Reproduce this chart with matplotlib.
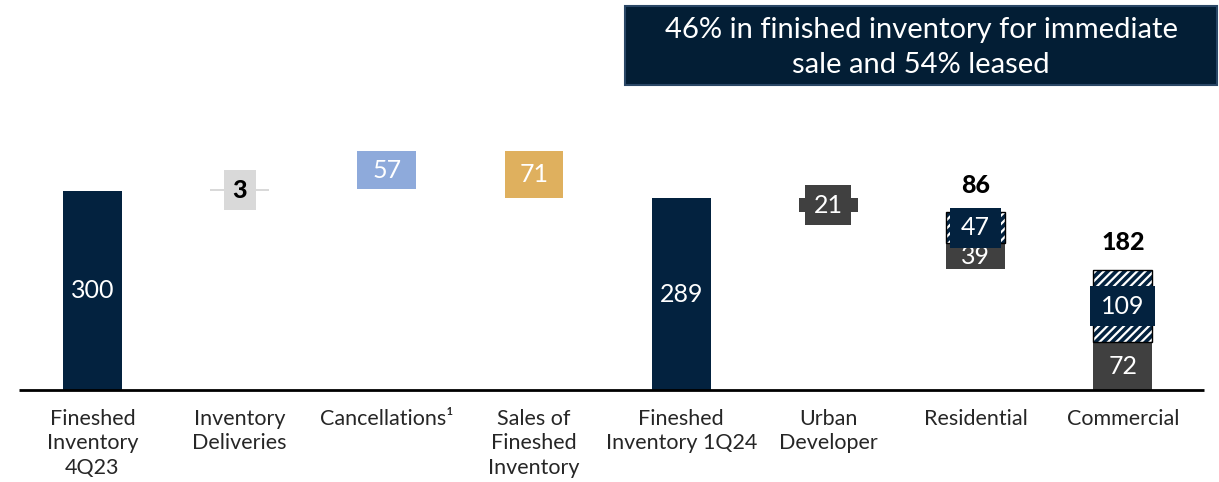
import matplotlib.pyplot as plt
from matplotlib.patches import Rectangle

# categories and waterfall values
categories = ['Fineshed\nInventory\n4Q23', 'Inventory\nDeliveries', 'Cancellations¹',
              'Sales of\nFineshed\nInventory', 'Fineshed\nInventory 1Q24', 'Urban\nDeveloper',
              'Residential', 'Commercial']
start_value = 300
deliveries = 3
cancellations = 57
sales = 71
end_value = 289
urban = 21
residential = [39, 47]
residential_total = 86
commercial = [72, 109]
commercial_total = 182

navy = '#03223f'
dark_gray = '#404040'
light_gray = '#d9d9d9'
blue = '#8eaadb'
gold = '#dfb05e'

plt.rcParams['font.family'] = ['Lato', 'DejaVu Sans']
plt.rcParams['hatch.linewidth'] = 1.6

fig = plt.figure(figsize=(12.19, 4.82), dpi=100)
ax = fig.add_axes([0, 0, 1, 1])
ax.set_xlim(-0.628, 7.653)
ax.set_ylim(-138.8, 588.2)
ax.axis('off')

# pixel -> data conversions for label boxes
px_x = 1 / 147.2
px_y = 1 / 0.663
w = 0.4
val_fs = 18


def label_box(x, y, width_px, color, text, text_color='white', bold=False):
    ax.add_patch(Rectangle((x - width_px * px_x / 2, y - 20 * px_y), width_px * px_x, 40 * px_y,
                           facecolor=color, edgecolor='none', zorder=4))
    ax.text(x, y, text, ha='center', va='center', color=text_color, fontsize=val_fs,
            fontweight='black' if bold else 'normal', zorder=5)


def inside(x, y, text):
    ax.text(x, y, text, ha='center', va='center', color='white', fontsize=val_fs)


# 0: starting inventory
ax.bar(0, start_value, width=w, color=navy)
inside(0, start_value / 2, str(start_value))

# 1: deliveries
ax.bar(1, deliveries, bottom=start_value, width=w, color=light_gray)
label_box(1, start_value + deliveries / 2, 32, light_gray, str(deliveries), 'black', bold=True)

# 2: cancellations
b2 = start_value + deliveries
ax.bar(2, cancellations, bottom=b2, width=w, color=blue)
inside(2, b2 + cancellations / 2, str(cancellations))

# 3: sales
b3 = b2 + cancellations - sales
ax.bar(3, sales, bottom=b3, width=w, color=gold)
inside(3, b3 + sales / 2, str(sales))

# 4: ending inventory
ax.bar(4, end_value, width=w, color=navy)
inside(4, end_value / 2, str(end_value))

# 5: urban developer
b5 = end_value - urban
ax.bar(5, urban, bottom=b5, width=w, color=dark_gray)
label_box(5, b5 + urban / 2, 46, dark_gray, str(urban))

# 6: residential
b6 = b5 - residential_total
ax.bar(6, residential[0], bottom=b6, width=w, color=dark_gray)
inside(6, b6 + residential[0] / 2, str(residential[0]))
ax.bar(6, residential[1], bottom=b6 + residential[0], width=w, color=navy, edgecolor='white',
       hatch='////', linewidth=0)
ax.bar(6, residential[1], bottom=b6 + residential[0], width=w, color='none', edgecolor='black', linewidth=1)
label_box(6, b6 + residential[0] + residential[1] / 2, 51, navy, str(residential[1]))
ax.text(6, b6 + residential_total + 40, str(residential_total), ha='center', va='center',
        color='black', fontsize=18, fontweight='black')

# 7: commercial
ax.bar(7, commercial[0], width=w, color=dark_gray)
inside(7, commercial[0] / 2, str(commercial[0]))
ax.bar(7, commercial[1], bottom=commercial[0], width=w, color=navy, edgecolor='white',
       hatch='////', linewidth=0)
ax.bar(7, commercial[1], bottom=commercial[0], width=w, color='none', edgecolor='black', linewidth=1)
label_box(7, commercial[0] + commercial[1] / 2, 65, navy, str(commercial[1]))
ax.text(7, commercial_total + 40, str(commercial_total), ha='center', va='center',
        color='black', fontsize=18, fontweight='black')

# baseline
ax.hlines(0, -0.5, 7.55, color='black', linewidth=2)

# category labels
for i, cat in enumerate(categories):
    ax.text(i, -28, cat, ha='center', va='top', fontsize=15.5,
            color='#262626', linespacing=1.3)

# callout box
fig.patches.append(Rectangle((0.5127, 0.8237), 0.4857, 0.164, transform=fig.transFigure,
                             facecolor='#031e35', edgecolor='#2a4766', linewidth=1.5))
fig.text(0.7556, 0.9015, '46% in finished inventory for immediate\nsale and 54% leased',
         ha='center', va='center', color='white', fontsize=21, linespacing=1.45)

plt.savefig('out.png', dpi=100)
